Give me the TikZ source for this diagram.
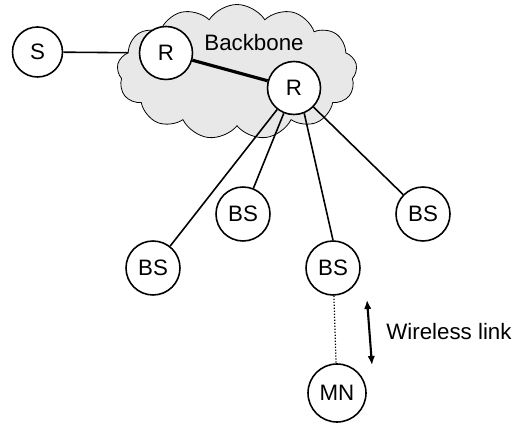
\documentclass[tikz,border=0pt]{standalone}
\usepackage{fontspec}
\setmainfont{Liberation Sans}
\usetikzlibrary{shapes.symbols,arrows.meta,backgrounds}

\begin{document}
\begin{tikzpicture}[
    every node/.style={font=\fontsize{12.7}{15}\selectfont},
    hostnode/.style={circle, draw, fill=white, line width=0.9pt,
        inner sep=0pt, minimum size=1.06cm},
    link/.style={line width=0.9pt},
    trunk/.style={line width=1.8pt},
    radiolink/.style={line width=0.7pt, densely dotted},
    radioarrow/.style={line width=1.2pt,
        {Latex[length=1.8mm,width=1.5mm]}-{Latex[length=1.8mm,width=1.5mm]}}
]
    \useasboundingbox (0.0, 0.0) rectangle (10.48, 8.46);

    % backbone cloud
    \node[cloud, cloud puffs=13, cloud puff arc=115, aspect=1.8, draw,
        fill=gray!18, line width=0.45pt, minimum width=4.8cm,
        minimum height=2.7cm, inner sep=0pt] (bbone) at (4.74, 7.02) {};
    \node (bblabel) at (5.08, 7.60) {Backbone};

    \node[hostnode, minimum size=1.0cm] (S) at (0.75, 7.42) {S};
    \node[hostnode] (R1) at (3.32, 7.40) {R};
    \node[hostnode] (R2) at (5.88, 6.70) {R};
    \node[hostnode, minimum size=1.08cm] (BS1) at (3.06, 3.10) {BS};
    \node[hostnode, minimum size=1.08cm] (BS2) at (4.86, 4.18) {BS};
    \node[hostnode, minimum size=1.08cm] (BS3) at (6.66, 3.10) {BS};
    \node[hostnode, minimum size=1.08cm] (BS4) at (8.46, 4.18) {BS};
    \node[hostnode, minimum size=1.16cm] (MN) at (6.74, 0.60) {MN};

    \coordinate (wtop) at (7.34, 2.46);
    \coordinate (wbot) at (7.44, 1.16);
    \node[anchor=west, inner sep=0pt] (wlabel) at (7.72, 1.82) {Wireless link};

    \begin{pgfonlayer}{background}
    \draw[link] (S) -- (R1);
    \end{pgfonlayer}
    \draw[trunk] (R1) -- (R2);
    \draw[link] (R2) -- (BS1);
    \draw[link] (R2) -- (BS2);
    \draw[link] (R2.-68) -- (BS3.north);
    \draw[link] (R2) -- (BS4);
    \draw[radiolink] (BS3) -- (MN);
    \draw[radioarrow] (wtop) -- (wbot);
\end{tikzpicture}
\end{document}
